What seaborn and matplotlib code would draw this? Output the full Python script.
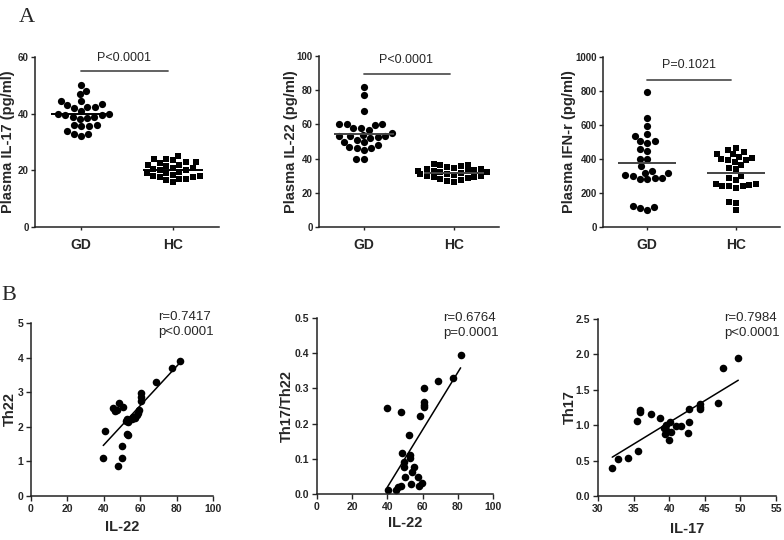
import numpy as np
import pandas as pd
import seaborn as sns
import matplotlib.pyplot as plt

groups = ['GD', 'HC']

# panel A: plasma levels per group
il17_gd = [50, 47, 48, 44.5, 43.5, 44.5, 42.5, 43, 42.5, 42, 41, 39.5, 39, 40, 39.5,
           39, 40, 38.5, 38, 36, 35.5, 36, 35.5, 34, 33, 32, 33]
il17_hc = [25, 24, 24, 23.5, 23, 23, 22.5, 22, 22, 21.5, 21, 21, 20.5, 20, 20, 19.5,
           19, 19, 18.5, 18, 18, 17.5, 17.5, 17, 17, 16.5, 16]
il22_gd = [82, 77, 68, 59.5, 58, 60, 60, 60.5, 57, 58, 55, 54, 53, 53, 52.5, 53, 52,
           50, 49.5, 51, 48, 47, 46, 45, 46, 40, 39.5]
il22_hc = [37, 36.5, 36, 35.5, 35, 34.5, 34, 34, 33.5, 33, 33, 32.5, 32, 32, 31.5, 31,
           31, 30.5, 30, 30, 29.5, 29, 28.5, 28, 27.5, 27, 26.5]
ifn_gd = [796, 639, 594, 547, 535, 505, 505, 495, 459, 447, 400, 400, 357, 330, 320,
          305, 290, 283, 280, 290, 300, 315, 115, 100, 110, 125]
ifn_hc = [465, 440, 430, 430, 455, 405, 395, 380, 365, 395, 410, 400, 350, 340, 250,
          240, 230, 255, 240, 240, 255, 275, 290, 300, 150, 140, 100]

# panel B: correlations
b1_il22 = [81.9, 77.3, 68.7, 60.4, 60.4, 60.2, 44.9, 47.1, 48.5, 50.7, 46.0, 52.6, 53.5,
           55.3, 57.1, 58.0, 59.0, 59.5, 56.0, 40.5, 53.1, 52.5, 49.8, 39.7, 49.8, 47.6, 52.0]
b1_th22 = [3.9, 3.69, 3.3, 2.98, 2.86, 2.75, 2.54, 2.49, 2.69, 2.57, 2.45, 2.22, 2.15,
           2.22, 2.25, 2.34, 2.41, 2.49, 2.28, 1.88, 1.76, 1.78, 1.45, 1.09, 1.11, 0.87, 2.18]
b2_il22 = [81.6, 77.4, 68.9, 60.8, 60.8, 60.8, 60.6, 39.9, 47.7, 58.5, 52.3, 48.5, 52.8,
           52.6, 49.6, 49.6, 49.8, 55.3, 53.8, 57.6, 53.2, 59.5, 58.1, 40.5, 44.9, 46.2, 47.6]
b2_ratio = [0.395, 0.33, 0.32, 0.30, 0.262, 0.253, 0.246, 0.243, 0.234, 0.222, 0.168,
            0.116, 0.111, 0.101, 0.09, 0.078, 0.049, 0.078, 0.063, 0.049, 0.028, 0.032,
            0.024, 0.012, 0.011, 0.021, 0.024]
b3_il17 = [49.7, 47.6, 46.9, 44.3, 44.3, 44.3, 42.8, 35.9, 35.9, 37.4, 35.5, 38.7, 39.3,
           39.6, 40.1, 40.3, 41.0, 41.6, 42.8, 39.4, 42.6, 40.0, 35.6, 34.2, 32.8, 32.0, 39.5]
b3_th17 = [1.95, 1.81, 1.32, 1.30, 1.26, 1.23, 1.23, 1.21, 1.18, 1.16, 1.06, 1.10, 0.96,
           1.0, 1.04, 0.91, 0.99, 0.99, 1.04, 0.88, 0.89, 0.79, 0.64, 0.53, 0.52, 0.40, 0.93]

sns.set_style('ticks')
plt.rcParams['font.family'] = ['Liberation Sans', 'DejaVu Sans']
W, H = 784, 540

fig = plt.figure(figsize=(7.84, 5.4), dpi=100)


def rect(l, r, t, b):
    return [l / W, 1 - b / H, (r - l) / W, (b - t) / H]


def style_axes(ax):
    sns.despine(ax=ax)
    for s in ['left', 'bottom']:
        ax.spines[s].set_linewidth(1.1)
        ax.spines[s].set_color('#222222')


def dot_panel(box, gd, hc, ylabel, yticks, ylabels, ptext, bar_y, text_y, mean_color, lab_x):
    ax = fig.add_axes(rect(*box))
    df = pd.DataFrame({'group': ['GD'] * len(gd) + ['HC'] * len(hc), 'value': gd + hc})
    sns.swarmplot(data=df[df.group == 'GD'], x='group', y='value', order=groups,
                  color='black', marker='o', size=5.2, ax=ax)
    sns.swarmplot(data=df[df.group == 'HC'], x='group', y='value', order=groups,
                  color='black', marker='s', size=4.8, ax=ax)
    for i, vals in enumerate([gd, hc]):
        ax.hlines(np.mean(vals), i - 0.33, i + 0.33, color=mean_color, lw=1.4, zorder=4)
    ax.plot([0, 0.95], [bar_y, bar_y], color='#555555', lw=1.3, clip_on=False)
    ax.text(0.47, text_y, ptext, ha='center', va='center', fontsize=9)
    ax.set_xlim(-0.5, 1.5)
    ax.set_ylim(yticks[0], yticks[-1])
    ax.set_yticks(yticks)
    ax.set_yticklabels(ylabels, fontweight='bold', fontsize=7)
    ax.set_xticks([0, 1])
    ax.set_xticklabels(groups, fontweight='bold', fontsize=10)
    ax.tick_params(axis='y', length=3, width=1, pad=1.5)
    ax.tick_params(axis='x', length=2, width=1, pad=6)
    ax.set_xlabel('')
    ax.set_ylabel(ylabel, fontweight='bold', fontsize=10.5)
    ax.yaxis.set_label_coords(lab_x, 0.5)
    style_axes(ax)


def corr_panel(box, x, y, xlabel, ylabel, xticks, yticks, ylabels, note, note_xy, lab_x, xlab_y):
    ax = fig.add_axes(rect(*box))
    sns.regplot(x=np.array(x), y=np.array(y), ci=None, ax=ax,
                scatter_kws={'s': 30, 'color': 'black', 'linewidths': 0, 'alpha': 1},
                line_kws={'color': 'black', 'lw': 1.1})
    ax.set_xlim(xticks[0], xticks[-1])
    ax.set_ylim(yticks[0], yticks[-1])
    ax.set_xticks(xticks)
    ax.set_xticklabels([str(t) for t in xticks], fontweight='bold', fontsize=7.5)
    ax.set_yticks(yticks)
    ax.set_yticklabels(ylabels, fontweight='bold', fontsize=7.5)
    ax.tick_params(axis='both', length=3.5, width=1, pad=2)
    ax.set_xlabel(xlabel, fontweight='bold', fontsize=10.5)
    ax.set_ylabel(ylabel, fontweight='bold', fontsize=10.5)
    ax.yaxis.set_label_coords(lab_x, 0.5)
    ax.xaxis.set_label_coords(0.5, xlab_y)
    ax.text(note_xy[0], note_xy[1], note, transform=ax.transAxes, ha='left', va='top',
            fontsize=9.5, linespacing=1.35)
    style_axes(ax)


dot_panel((35, 219, 57, 227), il17_gd, il17_hc, 'Plasma IL-17 (pg/ml)',
          [0, 20, 40, 60], ['0', '20', '40', '60'], 'P<0.0001', 55, 59.5, 'black', -0.11)
dot_panel((319, 499, 56, 227), il22_gd, il22_hc, 'Plasma IL-22 (pg/ml)',
          [0, 20, 40, 60, 80, 100], ['0', '20', '40', '60', '80', '100'],
          'P<0.0001', 89.5, 97.5, '#444444', -0.115)
dot_panel((603, 780, 57, 227), ifn_gd, ifn_hc, 'Plasma IFN-r (pg/ml)',
          [0, 200, 400, 600, 800, 1000], ['0', '200', '400', '600', '800', '1000'],
          'P=0.1021', 865, 952, '#444444', -0.15)

corr_panel((31, 213, 323, 496), b1_il22, b1_th22, 'IL-22', 'Th22',
           [0, 20, 40, 60, 80, 100], [0, 1, 2, 3, 4, 5], ['0', '1', '2', '3', '4', '5'],
           'r=0.7417\np<0.0001', (0.698, 1.07), -0.075, -0.14)
corr_panel((317, 493, 318, 494), b2_il22, b2_ratio, 'IL-22', 'Th17/Th22',
           [0, 20, 40, 60, 80, 100], [0, 0.1, 0.2, 0.3, 0.4, 0.5],
           ['0.0', '0.1', '0.2', '0.3', '0.4', '0.5'],
           'r=0.6764\np=0.0001', (0.716, 1.035), -0.13, -0.125)
corr_panel((598, 776, 319, 496), b3_il17, b3_th17, 'IL-17', 'Th17',
           [30, 35, 40, 45, 50, 55], [0, 0.5, 1.0, 1.5, 2.0, 2.5],
           ['0.0', '0.5', '1.0', '1.5', '2.0', '2.5'],
           'r=0.7984\np<0.0001', (0.708, 1.04), -0.12, -0.145)

fig.text(27 / W, 1 - 17 / H, 'A', family='Liberation Serif', fontsize=16, ha='center', va='center')
fig.text(9 / W, 1 - 295 / H, 'B', family='Liberation Serif', fontsize=16, ha='center', va='center')

fig.savefig('out.png', dpi=100)
